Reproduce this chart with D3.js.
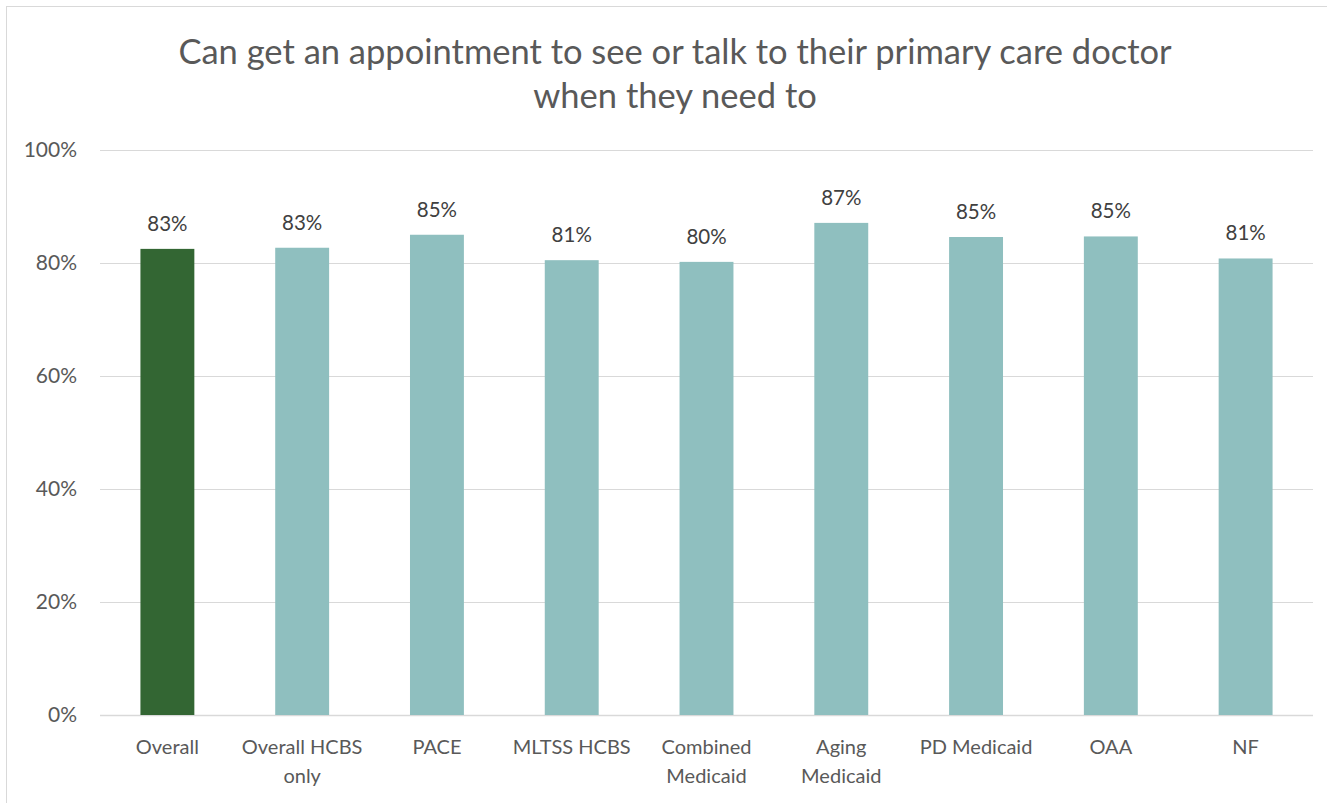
<!DOCTYPE html>
<html><head><meta charset="utf-8">
<script src="https://cdn.jsdelivr.net/npm/d3@7"></script>
<style>
html,body{margin:0;padding:0;background:#fff;}
svg{display:block;font-family:Lato,"Open Sans",sans-serif;}
</style></head>
<body>
<svg id="chart" width="1327" height="803"></svg>
<script>
const categories = ["Overall","Overall HCBS\nonly","PACE","MLTSS HCBS","Combined\nMedicaid","Aging\nMedicaid","PD Medicaid","OAA","NF"];
const values = [0.825,0.827,0.850,0.805,0.802,0.871,0.846,0.847,0.808];
const labels = ["83%","83%","85%","81%","80%","87%","85%","85%","81%"];
const colors = ["#336633","#8fbfbf","#8fbfbf","#8fbfbf","#8fbfbf","#8fbfbf","#8fbfbf","#8fbfbf","#8fbfbf"];
const yTicks = [0,0.2,0.4,0.6,0.8,1.0];
const titleLines = ["Can get an appointment to see or talk to their primary care doctor","when they need to"];

const svg = d3.select("#chart");
const W = 1327, H = 803;
const m = {left:100, right:1313, top:150, bottom:715};

svg.append("rect").attr("x",6.5).attr("y",6.5).attr("width",W+10).attr("height",H+10)
  .attr("fill","#fff").attr("stroke","#d9d9d9").attr("stroke-width",1);

const x = d3.scaleBand().domain(categories).range([m.left,m.right]).padding(0);
const y = d3.scaleLinear().domain([0,1]).range([m.bottom,m.top]);

// gridlines
svg.append("g").selectAll("line").data(yTicks).join("line")
  .attr("x1",m.left).attr("x2",m.right)
  .attr("y1",d=>Math.round(y(d))+0.5).attr("y2",d=>Math.round(y(d))+0.5)
  .attr("stroke","#d9d9d9").attr("stroke-width",d=>d===0?1.5:1.2);

// y axis labels
const yAxis = d3.axisLeft(y).tickValues(yTicks).tickFormat(d3.format(".0%")).tickSize(0).tickPadding(0);
const ga = svg.append("g").attr("transform",`translate(${77},0)`).call(yAxis);
ga.select(".domain").remove();
ga.selectAll("text").attr("font-size",21).attr("fill","#595959").attr("font-family","Lato,'Open Sans',sans-serif");

// bars
const bw = x.bandwidth()*0.4;
svg.append("g").selectAll("rect").data(values).join("rect")
  .attr("x",(d,i)=>x(categories[i])+x.bandwidth()/2-bw/2)
  .attr("width",bw)
  .attr("y",d=>y(d))
  .attr("height",d=>y(0)-y(d))
  .attr("fill",(d,i)=>colors[i]);

// data labels
svg.append("g").selectAll("text").data(values).join("text")
  .attr("x",(d,i)=>x(categories[i])+x.bandwidth()/2)
  .attr("y",d=>y(d)-18)
  .attr("text-anchor","middle").attr("font-size",20.5).attr("fill","#404040")
  .text((d,i)=>labels[i]);

// category labels
const cg = svg.append("g").selectAll("text").data(categories).join("text")
  .attr("x",d=>x(d)+x.bandwidth()/2)
  .attr("y",754)
  .attr("text-anchor","middle").attr("font-size",20).attr("fill","#595959");
cg.each(function(d){
  const t = d3.select(this);
  d.split("\n").forEach((s,i)=>{
    t.append("tspan").attr("x",t.attr("x")).attr("dy",i===0?0:29).text(s);
  });
});

// title
svg.append("g").selectAll("text").data(titleLines).join("text")
  .attr("x",675).attr("y",(d,i)=>64+i*44)
  .attr("text-anchor","middle").attr("font-size",34.5).attr("fill","#595959")
  .text(d=>d);
</script>
</body></html>
